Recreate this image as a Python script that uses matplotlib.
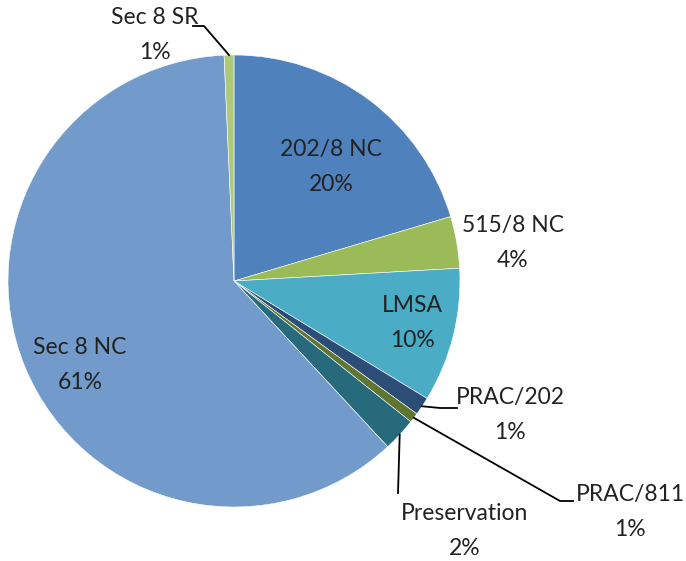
import numpy as np
import matplotlib.pyplot as plt

# slice shares (percent), clockwise from 12 o'clock
labels = ['202/8 NC', '515/8 NC', 'LMSA', 'PRAC/202', 'PRAC/811',
          'Preservation', 'Sec 8 NC', 'Sec 8 SR']
values = [20.4, 3.7, 9.6, 1.3, 0.7, 2.4, 61.2, 0.7]
colors = ['#4F81BD', '#9BBB59', '#4BACC6', '#2C4D75', '#5F7530',
          '#276A7C', '#729ACA', '#AFC97A']

W, H = 686, 561
CX, CY, R = 234, 281, 226

# label text centres in pixel coords (top-left origin)
label_pos = {
    '202/8 NC': (331, 167),
    '515/8 NC': (513, 243),
    'LMSA': (412, 323),
    'PRAC/202': (510, 415),
    'PRAC/811': (630, 512),
    'Preservation': (465, 531),
    'Sec 8 NC': (80, 365),
    'Sec 8 SR': (155, 35),
}
# leader line elbows / ends (pixel coords)
leaders = {
    'Sec 8 SR': [(204, 26), (193, 26)],
    'PRAC/202': [(440, 408), (457, 408)],
    'PRAC/811': [(560, 501), (573, 501)],
    'Preservation': [(398, 493)],
}

plt.rcParams['font.family'] = ['Lato', 'DejaVu Sans']

fig = plt.figure(figsize=(W / 100, H / 100), dpi=100)
ax = fig.add_axes([0, 0, 1, 1])

wedges, _ = ax.pie(values, colors=colors, startangle=90, counterclock=False,
                   center=(CX, H - CY), radius=R,
                   wedgeprops=dict(edgecolor='white', linewidth=0.4))
ax.set_xlim(0, W)
ax.set_ylim(0, H)
ax.set_aspect('equal')
ax.axis('off')

for w, name, v in zip(wedges, labels, values):
    x, y = label_pos[name]
    ax.text(x, H - y, f'{name}\n{round(v)}%', ha='center', va='center',
            fontsize=16.5, color='#222222', linespacing=1.8)
    if name in leaders:
        mid = np.deg2rad((w.theta1 + w.theta2) / 2)
        start = (CX + R * np.cos(mid), H - CY + R * np.sin(mid))
        pts = [start] + [(px, H - py) for px, py in leaders[name]]
        xs, ys = zip(*pts)
        ax.plot(xs, ys, color='black', linewidth=1.3)

fig.savefig('out.png', dpi=100)
